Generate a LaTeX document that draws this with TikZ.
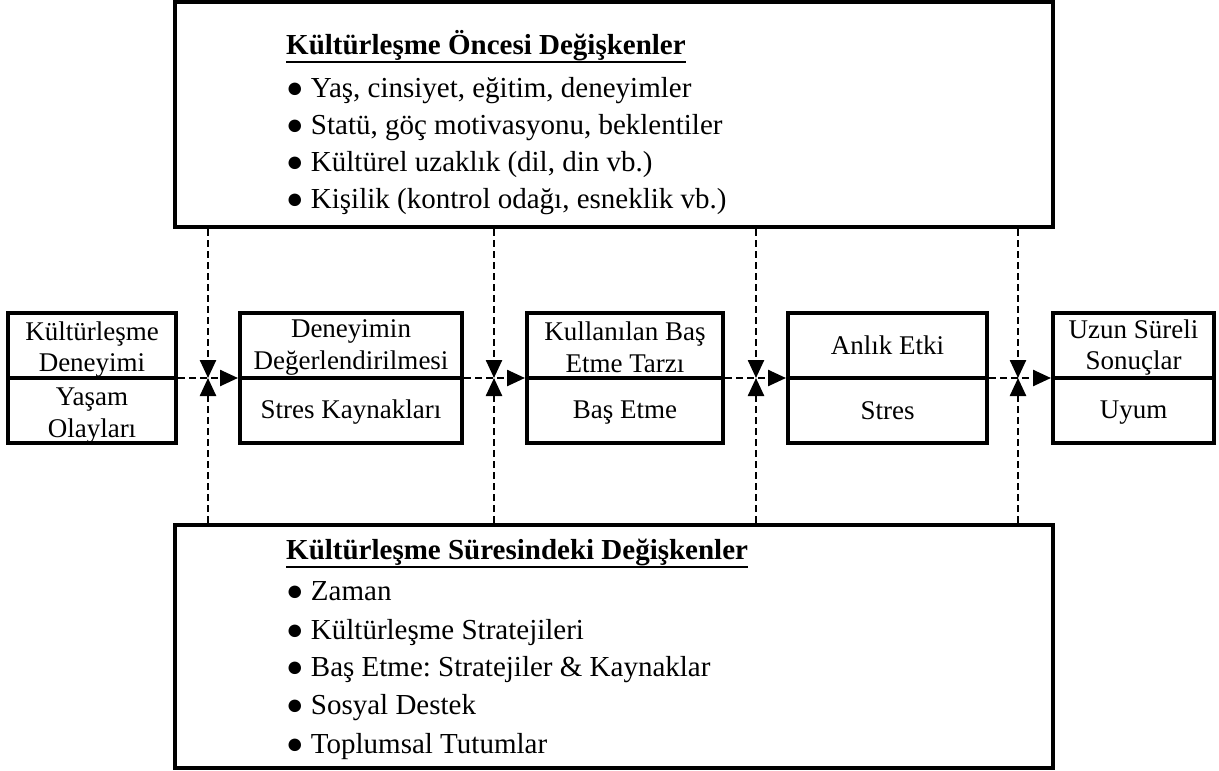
\documentclass[tikz,border=0pt]{standalone}
\usepackage{fontspec}
\setmainfont{Liberation Serif}
\usetikzlibrary{arrows.meta}
\frenchspacing
% bold heading with a heavy underline drawn below it
\newcommand{\titleul}[1]{\setbox0=\hbox{\textbf{#1}}\rlap{\rule[-9pt]{\wd0}{2.5pt}}\box0}
\begin{document}
\begin{tikzpicture}[x=1pt,y=-1pt,
  frame/.style={draw, line width=4pt, inner sep=0pt, outer sep=0pt},
  half/.style={frame, minimum height=65pt},
  boxtext/.style={align=center, inner sep=0pt, font=\fontsize{27}{31.5}\selectfont},
  listline/.style={anchor=base west, inner sep=0pt, font=\fontsize{29}{35}\selectfont},
  flow/.style={line width=2.5pt, dash pattern=on 7pt off 4pt, shorten <=2pt, shorten >=2pt,
    -{Triangle[length=18pt,width=16pt]}},
  vflow/.style={line width=2.5pt, dash pattern=on 7pt off 4pt, shorten <=2pt,
    -{Triangle[length=18pt,width=16pt]}},
]
\useasboundingbox (0,0) rectangle (1219,771);

% moderating variables: before and during acculturation
\node[frame, minimum width=878pt, minimum height=225pt] (pre) at (614,114.5) {};
\node[frame, minimum width=878pt, minimum height=243pt] (dur) at (614,646.5) {};

\node[listline] (pret) at (286,54)  {\titleul{Kültürleşme Öncesi Değişkenler}};
\node[listline] (pre1) at (286,97)  {● Yaş, cinsiyet, eğitim, deneyimler};
\node[listline] (pre2) at (286,134) {● Statü, göç motivasyonu, beklentiler};
\node[listline] (pre3) at (286,171) {● Kültürel uzaklık (dil, din vb.)};
\node[listline] (pre4) at (286,208) {● Kişilik (kontrol odağı, esneklik vb.)};

\node[listline] (durt) at (286,559) {\titleul{Kültürleşme Süresindeki Değişkenler}};
\node[listline] (dur1) at (286,600) {● Zaman};
\node[listline] (dur2) at (286,639) {● Kültürleşme Stratejileri};
\node[listline] (dur3) at (286,676) {● Baş Etme: Stratejiler \& Kaynaklar};
\node[listline] (dur4) at (286,714) {● Sosyal Destek};
\node[listline] (dur5) at (286,753) {● Toplumsal Tutumlar};

% process boxes, each split into an upper and a lower half
\node[half, minimum width=168pt] (b1t) at (92,345.5)  {};
\node[half, minimum width=168pt] (b1b) at (92,410.5)  {};
\node[half, minimum width=222pt] (b2t) at (351,345.5) {};
\node[half, minimum width=222pt] (b2b) at (351,410.5) {};
\node[half, minimum width=196pt] (b3t) at (625,345.5) {};
\node[half, minimum width=196pt] (b3b) at (625,410.5) {};
\node[half, minimum width=199pt] (b4t) at (887.5,345.5) {};
\node[half, minimum width=199pt] (b4b) at (887.5,410.5) {};
\node[half, minimum width=161pt] (b5t) at (1133.5,345.5) {};
\node[half, minimum width=161pt] (b5b) at (1133.5,410.5) {};

% their labels
\node[boxtext] (l1t) at ([yshift=-4pt]b1t.center) {Kültürleşme\\Deneyimi};
\node[boxtext] (l1b) at ([yshift=-5pt]b1b.center) {Yaşam\\Olayları};
\node[boxtext] (l2t) at ([yshift=-2pt]b2t.center) {Deneyimin\\Değerlendirilmesi};
\node[boxtext] (l2b) at ([yshift=-2pt]b2b.center) {Stres Kaynakları};
\node[boxtext] (l3t) at ([yshift=-2pt]b3t.center) {Kullanılan Baş\\Etme Tarzı};
\node[boxtext] (l3b) at ([yshift=-2pt]b3b.center) {Baş Etme};
\node[boxtext] (l4t) at (b4t.center) {Anlık Etki};
\node[boxtext] (l4b) at (b4b.center) {Stres};
\node[boxtext] (l5t) at ([yshift=-2pt]b5t.center) {Uzun Süreli\\Sonuçlar};
\node[boxtext] (l5b) at ([yshift=-2pt]b5b.center) {Uyum};

% junctions where the moderator arrows meet the main flow
\coordinate (j1) at (208,378);
\coordinate (j2) at (494,378);
\coordinate (j3) at (756,378);
\coordinate (j4) at (1018,378);

% main flow
\draw[flow] (b1t.south east) -- (b2t.south west);
\draw[flow] (b2t.south east) -- (b3t.south west);
\draw[flow] (b3t.south east) -- (b4t.south west);
\draw[flow] (b4t.south east) -- (b5t.south west);

% moderator influences
\foreach \j in {j1,j2,j3,j4}{
  \draw[vflow] (\j |- pre.south) -- (\j);
  \draw[vflow] (\j |- dur.north) -- (\j);
}
\end{tikzpicture}
\end{document}
